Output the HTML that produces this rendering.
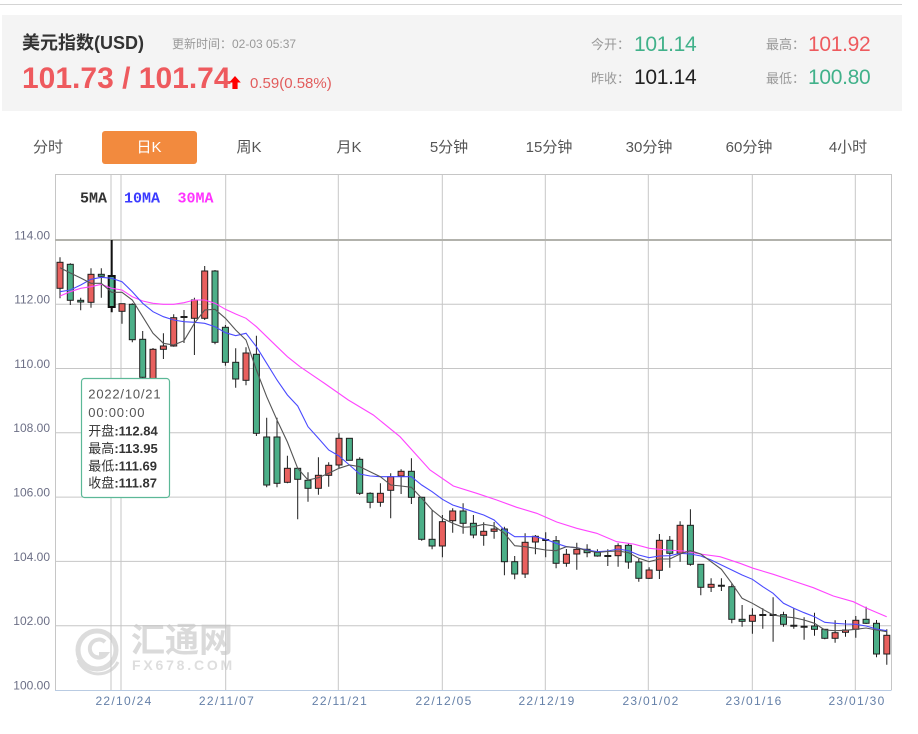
<!DOCTYPE html>
<html><head><meta charset="utf-8">
<style>
*{margin:0;padding:0;box-sizing:border-box}
html,body{width:918px;height:734px;background:#fff;overflow:hidden;font-family:"Liberation Sans","Noto Sans CJK SC",sans-serif}
.a{position:absolute;white-space:nowrap}
.topline{position:absolute;left:0;top:4px;width:902px;height:1px;background:#d4d4d4}
.hdr{position:absolute;left:2px;top:15px;width:900px;height:96px;background:#f4f4f4}
.tab{position:absolute;top:137px;height:22px;line-height:22px;font-size:15px;color:#555;text-align:center;width:100px}
.on{position:absolute;left:102px;top:131px;width:95px;height:33px;background:#f28a3e;border-radius:3px}
</style></head><body>
<div class="topline"></div>
<div class="hdr"></div>
<div class="a" style="left:22px;top:33px;font-size:18px;line-height:20px;font-weight:bold;color:#333">美元指数(USD)</div>
<div class="a" style="left:172px;top:37px;font-size:12px;line-height:14px;color:#999">更新时间：02-03 05:37</div>
<div class="a" style="left:22px;top:64px;font-size:30px;line-height:30px;font-weight:bold;color:#ee5a5e">101.73 / 101.74</div>
<svg class="a" style="left:0;top:0" width="260" height="100"><path d="M235 76 L240.8 82.5 H237.6 V89 H232.4 V82.5 H229.2 Z" fill="#ff0000"/></svg>
<div class="a" style="left:250px;top:76px;font-size:15px;line-height:15px;color:#e25c5c">0.59(0.58%)</div>

<div class="a" style="left:591px;top:37px;font-size:13px;line-height:15px;color:#999">今开：</div>
<div class="a" style="left:634px;top:34px;font-size:21px;line-height:21px;color:#41b18a;letter-spacing:-0.3px">101.14</div>
<div class="a" style="left:591px;top:71px;font-size:13px;line-height:15px;color:#999">昨收：</div>
<div class="a" style="left:634px;top:67px;font-size:21px;line-height:21px;color:#222;letter-spacing:-0.3px">101.14</div>
<div class="a" style="left:766px;top:37px;font-size:13px;line-height:15px;color:#999">最高：</div>
<div class="a" style="left:808px;top:34px;font-size:21px;line-height:21px;color:#ee5a5e;letter-spacing:-0.3px">101.92</div>
<div class="a" style="left:766px;top:71px;font-size:13px;line-height:15px;color:#999">最低：</div>
<div class="a" style="left:808px;top:67px;font-size:21px;line-height:21px;color:#41b18a;letter-spacing:-0.3px">100.80</div>

<div class="on"></div>
<div class="tab" style="left:-2px">分时</div>
<div class="tab" style="left:99px;color:#fff">日K</div>
<div class="tab" style="left:199px">周K</div>
<div class="tab" style="left:299px">月K</div>
<div class="tab" style="left:399px">5分钟</div>
<div class="tab" style="left:499px">15分钟</div>
<div class="tab" style="left:599px">30分钟</div>
<div class="tab" style="left:699px">60分钟</div>
<div class="tab" style="left:798px">4小时</div>

<svg class="a" style="left:0;top:0" width="918" height="734" viewBox="0 0 918 734">
<!-- watermark -->
<g fill="none" stroke="#dcdcdc">
<circle cx="97" cy="650" r="19" stroke-width="5"/>
<path d="M105 642 A9 9 0 1 0 106 654 L99 654" stroke-width="4"/>
<path d="M78 660 A22 22 0 0 0 118 662" stroke-width="3"/>
</g>
<text x="131" y="652" font-family="Noto Sans CJK SC,sans-serif" font-size="34" font-weight="bold" fill="#dadada">汇通网</text>
<text x="132" y="670" font-family="Liberation Sans,sans-serif" font-size="14" font-weight="bold" fill="#dedede" letter-spacing="2.8">FX678.COM</text>

<!-- grid -->
<g stroke="#c6c6c6" stroke-width="1" fill="none">
<path d="M55 174.5H891.5M55 625.7H891.5M55 561.4H891.5M55 497.1H891.5M55 432.8H891.5M55 368.5H891.5M55 304.2H891.5"/>
<path d="M55.5 174V690M891.5 174V690M121 174V690M225.7 174V690M338.3 174V690M442.3 174V690M545.3 174V690M648.3 174V690M752.3 174V690M855.3 174V690M111 174V690"/>
</g>
<path d="M55 240H891.5" stroke="#b2b2ac" stroke-width="2"/>
<path d="M55 690.5H891.5" stroke="#b9cbe2" stroke-width="1"/>

<!-- y labels -->
<g font-family="Liberation Sans,sans-serif" font-size="12" fill="#6c6f86" text-anchor="end">
<text x="50" y="239.3">114.00</text>
<text x="50" y="303.6">112.00</text>
<text x="50" y="367.9">110.00</text>
<text x="50" y="432.2">108.00</text>
<text x="50" y="496.5">106.00</text>
<text x="50" y="560.8">104.00</text>
<text x="50" y="625.1">102.00</text>
<text x="50" y="689.4">100.00</text>
</g>
<!-- x labels -->
<g font-family="Liberation Sans,sans-serif" font-size="12" fill="#6580a8" text-anchor="middle" letter-spacing="1.3">
<text x="124" y="705">22/10/24</text>
<text x="227" y="705">22/11/07</text>
<text x="340" y="705">22/11/21</text>
<text x="444" y="705">22/12/05</text>
<text x="547" y="705">22/12/19</text>
<text x="651" y="705">23/01/02</text>
<text x="754" y="705">23/01/16</text>
<text x="857" y="705">23/01/30</text>
</g>

<!-- legend -->
<g font-family="Liberation Mono,monospace" font-size="15" font-weight="bold">
<text x="80" y="202.5" fill="#333">5MA</text>
<text x="124" y="202.5" fill="#3a3aff">10MA</text>
<text x="177.5" y="202.5" fill="#ff33ff">30MA</text>
</g>

<!-- wicks -->
<path stroke="#1e1e1e" stroke-width="1" fill="none" d="M60 257.3V298.3M70.3 263.3V305M80.7 297.7V310.3M91 268.3V307.7M101.3 268.3V297.7M122 303.7V323.7M132.3 303.3V342.3M142.7 331V380M153 348V382M163.4 333.3V359M173.7 314.3V346.7M184 310V343M194.4 297.7V355M204.7 266V320M215 270V344.3M225.4 325V365.7M235.7 348.3V387.7M246 347.3V385.3M256.4 335.7V436M266.7 417.7V487.3M277 417.7V487.3M287.4 455.7V483.3M297.7 468V519.3M308 472.3V501.7M318.4 457.3V494.7M328.7 462.3V486.7M339 433.3V468.3M349.4 438.3V460.3M359.7 457.3V495M370.1 492.3V508.3M380.4 483.3V506.7M390.7 473.3V518.3M401.1 469.3V494M411.4 458.3V504M421.7 496.7V540.7M432.1 510V549.3M442.4 515V557.3M452.7 508.3V532.7M463.1 503.3V533.7M473.4 515V538.3M483.7 522.3V545.7M494.1 522V538.7M504.4 526.7V575.3M514.7 556V579.3M525.1 533.3V578M535.4 535V554.3M545.7 532.3V557.3M556.1 536V568.3M566.4 549V566.7M576.8 542.7V569.7M587.1 544.3V557.3M597.4 549.3V556.7M607.8 549.3V566M618.1 543.3V566.7M628.4 543.3V568.7M638.8 558.7V581.7M649.1 567.3V579M659.4 534V579M669.8 536V567.7M680.1 521.3V561.7M690.4 509.3V565.7M700.8 564.3V595.3M711.1 578.3V592M721.4 578.3V591M731.8 583.3V623.3M742.1 605V626.7M752.4 608.3V633.7M762.8 608.3V628.7M773.1 597.3V641.7M783.5 611.7V626.7M793.8 608V628.7M804.1 617.3V639.7M814.5 612.7V635.7M824.8 629V639.3M835.1 620.3V642.7M845.5 620V636.7M855.8 616V637.7M866.1 606.7V624M876.5 620V657.3M886.8 629.3V664.7"/>
<path stroke="#111" stroke-width="2" d="M111.7 240V312.3"/>
<!-- crosses -->
<path stroke="#1e1e1e" stroke-width="2" d="M180.5 317h7M542.2 540h7M604.3 556h7M717.9 585.7h7M759.3 615h7M769.6 615h7M790.3 625.7h7M800.6 626.7h7"/>

<!-- red bodies -->
<g fill="#e8605e" stroke="#1e1e1e" stroke-width="1">
<rect x="57" y="262.3" width="6" height="26"/>
<rect x="88" y="274.3" width="6" height="28"/>
<rect x="119" y="303.7" width="6" height="7.6"/>
<rect x="150" y="349.3" width="6" height="30.7"/>
<rect x="160.4" y="346" width="6" height="3.3"/>
<rect x="170.7" y="317.7" width="6" height="28.3"/>
<rect x="191.4" y="300" width="6" height="18.3"/>
<rect x="201.7" y="271" width="6" height="47.3"/>
<rect x="243" y="353" width="6" height="27.3"/>
<rect x="284.4" y="468.3" width="6" height="14"/>
<rect x="315.4" y="475.3" width="6" height="13"/>
<rect x="325.7" y="465.3" width="6" height="10"/>
<rect x="336" y="438.3" width="6" height="26.7"/>
<rect x="377.4" y="493.3" width="6" height="9"/>
<rect x="387.7" y="476.7" width="6" height="13.6"/>
<rect x="398.1" y="471.3" width="6" height="4.7"/>
<rect x="439.4" y="521.7" width="6" height="24.3"/>
<rect x="449.7" y="511" width="6" height="9.7"/>
<rect x="480.7" y="531.3" width="6" height="4"/>
<rect x="491.1" y="529" width="6" height="2.3"/>
<rect x="522.1" y="542.3" width="6" height="31.7"/>
<rect x="532.4" y="536.3" width="6" height="5.7"/>
<rect x="563.4" y="554.3" width="6" height="9"/>
<rect x="573.8" y="549.3" width="6" height="4.7"/>
<rect x="615.1" y="545.7" width="6" height="10"/>
<rect x="646.1" y="570" width="6" height="8.3"/>
<rect x="656.4" y="540.3" width="6" height="30"/>
<rect x="677.1" y="525.3" width="6" height="28"/>
<rect x="708.1" y="584.3" width="6" height="3"/>
<rect x="749.4" y="615.3" width="6" height="6"/>
<rect x="832.1" y="632.7" width="6" height="5.6"/>
<rect x="842.5" y="630" width="6" height="2.3"/>
<rect x="852.8" y="620.3" width="6" height="9"/>
<rect x="883.8" y="635.3" width="6" height="18.7"/>
</g>
<!-- green bodies -->
<g fill="#4caf88" stroke="#1e1e1e" stroke-width="1">
<rect x="67.3" y="264.3" width="6" height="36"/>
<rect x="77.7" y="300.3" width="6" height="1.7"/>
<rect x="98.3" y="274.3" width="6" height="2"/>
<rect x="129.3" y="304.3" width="6" height="35.4"/>
<rect x="139.7" y="339.3" width="6" height="38"/>
<rect x="212" y="271" width="6" height="71.3"/>
<rect x="222.4" y="327.3" width="6" height="35"/>
<rect x="232.7" y="362.3" width="6" height="16.7"/>
<rect x="253.4" y="354.3" width="6" height="79"/>
<rect x="263.7" y="437" width="6" height="48"/>
<rect x="274" y="437" width="6" height="46.3"/>
<rect x="294.7" y="468.3" width="6" height="11"/>
<rect x="305" y="480.3" width="6" height="8"/>
<rect x="346.4" y="438.3" width="6" height="22"/>
<rect x="356.7" y="459.3" width="6" height="34"/>
<rect x="367.1" y="493.3" width="6" height="9"/>
<rect x="408.4" y="471.3" width="6" height="26"/>
<rect x="418.7" y="497.3" width="6" height="42"/>
<rect x="429.1" y="539.3" width="6" height="6.7"/>
<rect x="460.1" y="511" width="6" height="12.3"/>
<rect x="470.4" y="523.3" width="6" height="11.7"/>
<rect x="501.4" y="529" width="6" height="32.7"/>
<rect x="511.7" y="561.7" width="6" height="12.3"/>
<rect x="553.1" y="540.7" width="6" height="22.6"/>
<rect x="584.1" y="549.3" width="6" height="3.4"/>
<rect x="594.4" y="552.3" width="6" height="3.7"/>
<rect x="625.4" y="545.3" width="6" height="16.7"/>
<rect x="635.8" y="562" width="6" height="16.3"/>
<rect x="666.8" y="540.3" width="6" height="13"/>
<rect x="687.4" y="525.3" width="6" height="39"/>
<rect x="697.8" y="564.3" width="6" height="23"/>
<rect x="728.8" y="586.7" width="6" height="32.6"/>
<rect x="739.1" y="619.3" width="6" height="2"/>
<rect x="780.5" y="614.7" width="6" height="9.6"/>
<rect x="811.5" y="626" width="6" height="3.3"/>
<rect x="821.8" y="629.3" width="6" height="9"/>
<rect x="863.1" y="619.3" width="6" height="4"/>
<rect x="873.5" y="623.3" width="6" height="30.7"/>
</g>
<rect x="108.7" y="276" width="6" height="31" fill="#4caf88" stroke="#111" stroke-width="2"/>

<!-- MA lines -->
<polyline fill="none" stroke="#ff44ff" stroke-width="1.1" points="60,296 70.3,291.7 80.7,288.3 91,286.7 101.3,284.3 111.7,288.3 122,290 132.3,296.7 142.7,301 153,303.3 163.4,304.3 173.7,304.3 184,302.7 194.4,300 204.7,300 215,303.3 225.4,309.3 235.7,314 246,318.3 256.4,326.7 266.7,336.7 277,346.7 287.4,356.7 300,366.7 324,383 348.3,400 373.3,415 400,436.7 430,470 453.3,486 476.7,493.3 496.7,500 516.7,507.3 536.7,513.3 556.7,522 576.7,528.3 596.7,533.3 616.7,541.7 633.3,544 649.3,548.3 666.7,550 683.3,551 700,554 720,556.7 740,563.3 753.3,568.3 773.3,574.3 793.3,581 813.3,587.7 833.3,596 853.3,601.7 866.7,608.3 886.7,616.7"/>
<polyline fill="none" stroke="#4a4aff" stroke-width="1.1" points="60,291.7 70.3,290 80.7,285 91,279.3 101.3,277.3 111.7,278.3 122,281.7 132.3,291.7 142.7,303.3 153,311.7 163.4,316.7 173.7,320 184,321.7 194.4,322.3 204.7,323.3 215,326.7 225.4,332.7 235.7,335.7 246,333.3 256.4,346.7 266.7,363.3 277,380 287.4,395 297.7,406 308,426.7 318.4,438.3 328.7,450 339,456 349.4,465 359.7,474 370.1,476 380.4,476.7 390.7,476.7 401.1,476.7 411.4,476.7 421.7,485 432.1,491.7 442.4,499.3 452.7,505 463.1,508.3 473.4,511.7 483.7,515 494.1,520 504.4,530 514.7,536.7 525.1,536.7 535.4,536.7 545.7,539.3 556.1,543.3 566.4,546.7 576.8,547.7 587.1,550 597.4,551.7 607.8,551 618.1,549 628.4,550.7 638.8,555 649.1,557.7 659.4,556 669.8,555.7 680.1,553.3 690.4,554 700.8,556 711.1,560 721.4,565 731.8,570 742.1,575 752.4,579.3 762.8,586.7 773.1,593.3 783.5,603.3 793.8,608.3 804.1,612.7 814.5,616.7 824.8,622.3 835.1,623.3 845.5,624 855.8,624.3 866.1,626 876.5,629 886.8,630.7"/>
<polyline fill="none" stroke="#555" stroke-width="1.1" points="60,267.7 70.3,273 80.7,278 91,283.3 101.3,283.3 111.7,292.3 122,292.3 132.3,300 142.7,316.7 153,333.3 163.4,343.3 173.7,345 184,340.7 194.4,323.3 204.7,310 215,309.3 225.4,318.3 235.7,330 246,340 256.4,370 266.7,396.7 277,420 287.4,442 297.7,468.3 308,480 318.4,477.7 328.7,473.3 339,468.3 349.4,465 359.7,466.7 370.1,471.7 380.4,476.7 390.7,485 401.1,486 411.4,487.3 421.7,498.3 432.1,510 442.4,518.3 452.7,523.3 463.1,527.3 473.4,526.7 483.7,524.3 494.1,526 504.4,533.3 514.7,545.7 525.1,546.7 535.4,548.3 545.7,550 556.1,550.7 566.4,546.7 576.8,547.7 587.1,550.7 597.4,552.5 607.8,551.5 618.1,551 628.4,552.7 638.8,558.3 649.1,561.7 659.4,559 669.8,559 680.1,554 690.4,550.7 700.8,554 711.1,561.7 721.4,569.3 731.8,583.3 742.1,598.3 752.4,603.3 762.8,609.3 773.1,615 783.5,616.7 793.8,617.7 804.1,620 814.5,623.3 824.8,630 835.1,630.7 845.5,630.3 855.8,629.3 866.1,628 876.5,630 886.8,631.7"/>

<!-- tooltip -->
<rect x="81.5" y="378.5" width="88" height="119" rx="3" fill="#fff" stroke="#5cb897" stroke-width="1.2"/>
<g font-family="Liberation Sans,Noto Sans CJK SC,sans-serif" font-size="13" fill="#555">
<text x="88.3" y="398.7" letter-spacing="0.8">2022/10/21</text>
<text x="88.3" y="417" letter-spacing="0.8">00:00:00</text>
<text x="88.3" y="435.7" fill="#333">开盘<tspan font-weight="bold">:112.84</tspan></text>
<text x="88.3" y="453" fill="#333">最高<tspan font-weight="bold">:113.95</tspan></text>
<text x="88.3" y="470.4" fill="#333">最低<tspan font-weight="bold">:111.69</tspan></text>
<text x="88.3" y="487.4" fill="#333">收盘<tspan font-weight="bold">:111.87</tspan></text>
</g>
</svg>
</body></html>
